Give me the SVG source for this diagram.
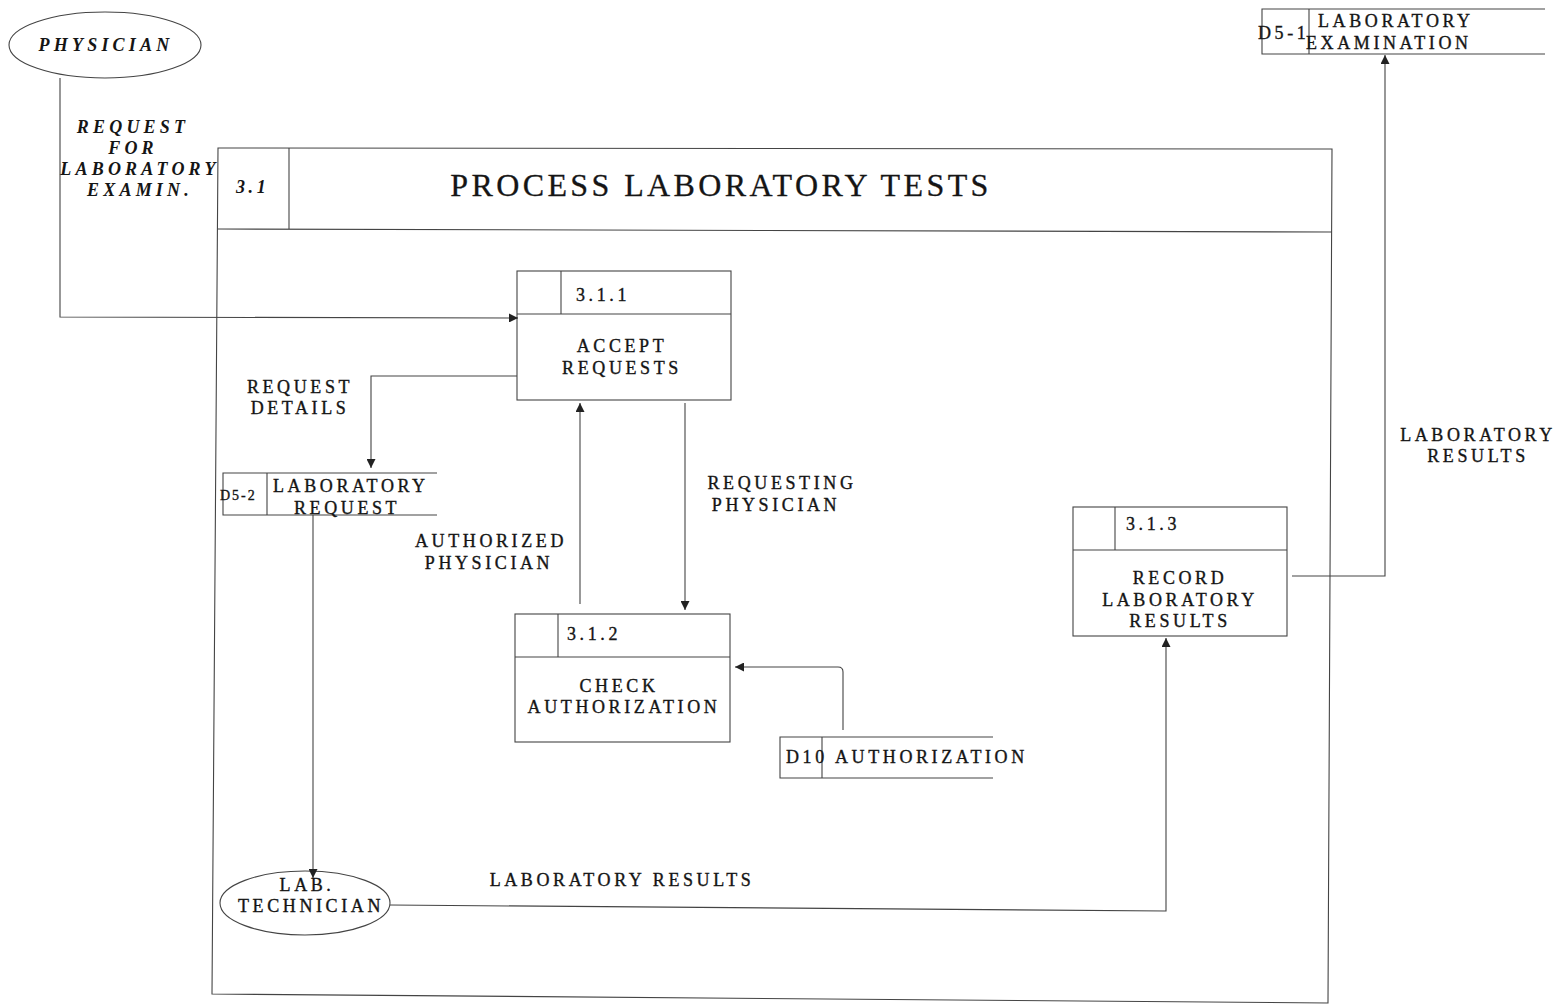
<svg xmlns="http://www.w3.org/2000/svg" width="1560" height="1006" viewBox="0 0 1560 1006">
<defs>
<marker id="ah" viewBox="0 0 10 10" refX="10" refY="5" markerWidth="9" markerHeight="9" markerUnits="userSpaceOnUse" orient="auto">
<path d="M0,0 L10,5 L0,10 z" fill="#222"/>
</marker>
<style>
.ln{fill:none;stroke:#444;stroke-width:1.1}
.cn{fill:none;stroke:#444;stroke-width:1.1;marker-end:url(#ah)}
.t{font-family:"Liberation Serif","Times New Roman",serif;font-size:18px;fill:#151515;stroke:#151515;stroke-width:0.35;letter-spacing:3.6px}
.it{font-style:italic;font-weight:bold;stroke-width:0}
.b{font-weight:normal}
.title{font-family:"Liberation Serif","Times New Roman",serif;font-size:32px;fill:#151515;stroke:#151515;stroke-width:0.3;letter-spacing:3.4px}
.m{text-anchor:middle}
</style>
</defs>
<rect width="1560" height="1006" fill="#fff"/>

<g id="frame-3.1">
<path class="ln" d="M218,148 L1332,149 L1328,1003 L212,994 Z"/>
<line class="ln" x1="218" y1="229" x2="1332" y2="232"/>
<line class="ln" x1="289" y1="148" x2="289" y2="229"/>
<text class="t it" x="236" y="193">3.1</text>
<text class="title m" x="721" y="196">PROCESS LABORATORY TESTS</text>
</g>

<g id="physician">
<ellipse class="ln" cx="105" cy="45" rx="96" ry="33"/>
<text class="t it m" x="106" y="51" style="letter-spacing:4.2px">PHYSICIAN</text>
</g>

<g id="p-3.1.1">
<rect class="ln" x="517" y="271" width="214" height="129"/>
<line class="ln" x1="517" y1="314" x2="731" y2="314"/>
<line class="ln" x1="561" y1="271" x2="561" y2="314"/>
<text class="t b" x="576" y="301">3.1.1</text>
<text class="t b m" x="622" y="352">ACCEPT</text>
<text class="t b m" x="622" y="374">REQUESTS</text>
</g>

<g id="d5-2">
<path class="ln" d="M437,473 L223,473 L223,515 L437,515 M267,473 L267,515"/>
<text class="t" style="font-size:14px;letter-spacing:2px" x="220" y="500">D5-2</text>
<text class="t b" x="273" y="492">LABORATORY</text>
<text class="t b" x="294" y="514">REQUEST</text>
</g>

<g id="p-3.1.2">
<rect class="ln" x="515" y="614" width="215" height="128"/>
<line class="ln" x1="515" y1="657" x2="730" y2="657"/>
<line class="ln" x1="558" y1="614" x2="558" y2="657"/>
<text class="t b" x="567" y="640">3.1.2</text>
<text class="t b m" x="619" y="692">CHECK</text>
<text class="t b m" x="624" y="713">AUTHORIZATION</text>
</g>

<g id="d10">
<path class="ln" d="M993,737 L780,737 L780,778 L993,778 M822,737 L822,778"/>
<text class="t b" x="786" y="763">D10</text>
<text class="t b" x="835" y="763">AUTHORIZATION</text>
</g>

<g id="p-3.1.3">
<rect class="ln" x="1073" y="507" width="214" height="129"/>
<line class="ln" x1="1073" y1="550" x2="1287" y2="550"/>
<line class="ln" x1="1115" y1="507" x2="1115" y2="550"/>
<text class="t b" x="1126" y="530">3.1.3</text>
<text class="t b m" x="1180" y="584">RECORD</text>
<text class="t b m" x="1180" y="606">LABORATORY</text>
<text class="t b m" x="1180" y="627">RESULTS</text>
</g>

<g id="d5-1">
<path class="ln" d="M1545,9 L1262,9 L1262,54 L1545,54 M1309,9 L1309,54"/>
<text class="t b" x="1258" y="39">D5-1</text>
<text class="t b" x="1318" y="27">LABORATORY</text>
<text class="t b" x="1306" y="49">EXAMINATION</text>
</g>

<g id="lab-technician">
<ellipse class="ln" cx="305" cy="903" rx="85" ry="32"/>
<text class="t b m" x="307" y="891">LAB.</text>
<text class="t b m" x="311" y="912">TECHNICIAN</text>
</g>

<g id="connectors">
<path class="cn" d="M60,78 L60,317 L518,318"/>
<path class="cn" d="M517,376 L371,376 L371,468"/>
<path class="cn" d="M313,515 L313,878"/>
<path class="cn" d="M685,403 L685,610"/>
<path class="cn" d="M580,604 L580,403"/>
<path class="cn" d="M843,730 L843,672 Q843,667 838,667 L735,667"/>
<path class="cn" d="M390,905 L1166,911 L1166,638"/>
<path class="cn" d="M1292,576 L1385,576 L1385,55"/>
</g>

<g id="labels">
<text class="t it m" x="133" y="133" style="letter-spacing:4.2px">REQUEST</text>
<text class="t it m" x="133" y="154" style="letter-spacing:4.2px">FOR</text>
<text class="t it m" x="140" y="175" style="letter-spacing:4.2px">LABORATORY</text>
<text class="t it m" x="140" y="196" style="letter-spacing:4.2px">EXAMIN.</text>
<text class="t b m" x="300" y="393">REQUEST</text>
<text class="t b m" x="300" y="414">DETAILS</text>
<text class="t b m" x="491" y="547">AUTHORIZED</text>
<text class="t b m" x="489" y="569">PHYSICIAN</text>
<text class="t b m" x="782" y="489">REQUESTING</text>
<text class="t b m" x="776" y="511">PHYSICIAN</text>
<text class="t b m" x="622" y="886">LABORATORY RESULTS</text>
<text class="t b m" x="1478" y="441">LABORATORY</text>
<text class="t b m" x="1478" y="462">RESULTS</text>
</g>
</svg>
